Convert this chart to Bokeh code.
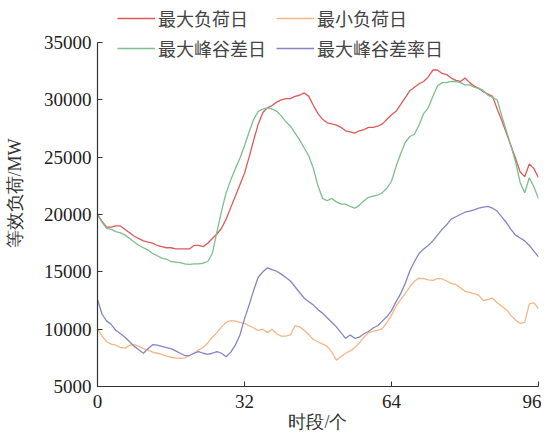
from bokeh.plotting import figure
from bokeh.models import Range1d, FixedTicker, Legend, LegendItem
from bokeh.embed import file_html
from bokeh.resources import INLINE

t = list(range(97))
red = [20000,19400,18900,18900,19000,19000,18700,18400,18100,17900,
       17700,17600,17500,17300,17200,17100,17100,17000,17000,17000,
       17000,17300,17300,17200,17500,17900,18300,18800,19600,20600,
       21600,22600,23600,25000,26500,27900,28900,29300,29500,29800,
       30000,30100,30100,30300,30400,30600,30300,29500,28800,28300,
       28000,27900,27800,27600,27300,27200,27100,27300,27400,27600,
       27600,27700,27900,28300,28700,29000,29600,30200,30800,31100,
       31400,31600,32000,32600,32600,32300,32200,31900,31700,31600,
       31900,31500,31200,31000,30700,30500,30300,29200,28200,27100,
       26000,24900,23700,23300,24400,24000,23200]
green = [20000,19300,18800,18700,18500,18400,18200,17900,17600,17300,
         17100,16900,16600,16400,16200,16100,15900,15850,15800,15700,
         15650,15700,15700,15750,15900,16600,18500,20300,21900,23000,
         24000,24900,26000,27200,28300,29000,29200,29300,29200,29000,
         28600,28100,27700,27100,26500,25800,25100,24000,22500,21400,
         21200,21400,21100,20900,20900,20700,20550,20800,21200,21500,
         21600,21700,21900,22300,22900,24200,25300,26300,26800,27000,
         27800,28800,29300,30300,31200,31500,31500,31600,31600,31500,
         31300,31300,31100,31000,30800,30400,30200,30000,28600,27300,
         26000,24600,22800,21900,23200,22400,21400]
orange = [10000,9400,8900,8700,8600,8400,8350,8600,8650,8500,
          8300,8200,8000,7900,7800,7650,7550,7500,7450,7500,
          7700,7900,8200,8400,8800,9300,9700,10200,10600,10750,
          10700,10600,10500,10300,10100,9900,10000,9700,10000,9600,
          9400,9400,9500,10300,10200,9900,9500,9100,8900,8700,
          8500,8000,7300,7600,7900,8100,8400,8800,9300,9700,
          9800,9900,10050,10600,11200,12000,12600,13100,13700,14200,
          14450,14400,14300,14250,14400,14400,14200,14000,13900,13600,
          13300,13200,13100,12950,12500,12600,12700,12300,12000,11700,
          11200,10800,10500,10600,12200,12300,11800]
purple = [12600,11300,10700,10400,9900,9600,9300,8900,8500,8200,
          7900,8300,8650,8600,8500,8400,8300,8100,7900,7700,
          7700,7900,8050,7900,7800,7900,8050,7900,7600,8000,
          8600,9500,10900,12100,13400,14550,15000,15350,15200,15050,
          14800,14500,14200,13700,13200,12700,12400,12100,11700,11400,
          11000,10600,10200,9700,9200,9500,9200,9300,9600,9800,
          10100,10300,10700,11100,11600,12400,13100,14000,15100,15900,
          16600,17000,17300,17700,18200,18700,19100,19600,19800,20000,
          20200,20300,20400,20550,20650,20700,20550,20300,19800,19300,
          18700,18200,17950,17700,17300,16800,16300]

names = ["最大负荷日", "最小负荷日", "最大峰谷差日", "最大峰谷差率日"]
colors = ["#DC5A5A", "#F4B686", "#7DBE8E", "#8484C6"]
x_ticks = [0, 32, 64, 96]
y_ticks = [5000, 10000, 15000, 20000, 25000, 30000, 35000]
x_title = "时段/个"
y_title = "等效负荷/MW"
y_min, y_max = 5000, 35000

# frame: 386 px tall; 5000..35000 spans the lower 344 px, the legend sits above it
frame_h, axis_h = 386, 344
y_top = y_min + (y_max - y_min) * frame_h / axis_h

p = figure(width=541, height=437, output_backend="svg", toolbar_location=None,
           x_range=Range1d(0, 96), y_range=Range1d(y_min, y_top),
           min_border_left=97, min_border_right=3, min_border_top=0, min_border_bottom=51)

series = [red, orange, green, purple]
renderers = []
for s, c in zip(series, colors):
    r = p.line(t, s, line_color=c, line_width=1.3)
    renderers.append(r)

p.grid.visible = False
p.outline_line_color = None
p.background_fill_color = "white"
p.border_fill_color = "white"

for ax in (p.xaxis[0], p.yaxis[0]):
    ax.axis_line_color = "#333333"
    ax.axis_line_width = 1.2
    ax.major_tick_line_color = "#333333"
    ax.major_tick_in = 5
    ax.major_tick_out = 0
    ax.minor_tick_line_color = None
    ax.major_label_text_font = "Liberation Serif"
    ax.major_label_text_font_size = "19px"
    ax.major_label_text_color = "#222222"
    ax.axis_label_text_font = "Liberation Serif"
    ax.axis_label_text_font_size = "18px"
    ax.axis_label_text_font_style = "normal"
    ax.axis_label_text_color = "#333333"

p.xaxis.ticker = FixedTicker(ticks=x_ticks)
p.yaxis.ticker = FixedTicker(ticks=y_ticks)
p.yaxis.bounds = (y_min, y_max)
p.xaxis.major_label_standoff = 8
p.yaxis.major_label_standoff = 6
p.xaxis.axis_label = x_title
p.yaxis.axis_label = y_title
p.xaxis.axis_label_standoff = 1
p.yaxis.axis_label_standoff = 16

order = [0, 2, 1, 3]  # legend fills column by column
items = [LegendItem(label=names[i], renderers=[renderers[i]]) for i in order]
legend = Legend(items=items, ncols=2, location=(20, frame_h - 61),
                label_text_font="Noto Sans CJK SC", label_text_font_size="18px",
                label_text_color="#444444", label_height=20, glyph_height=20,
                glyph_width=38, label_width=114, label_standoff=3, spacing=4,
                padding=0, margin=0,
                border_line_color=None, background_fill_alpha=0)
p.add_layout(legend, "center")

open("out.html", "w").write(file_html(p, INLINE))
